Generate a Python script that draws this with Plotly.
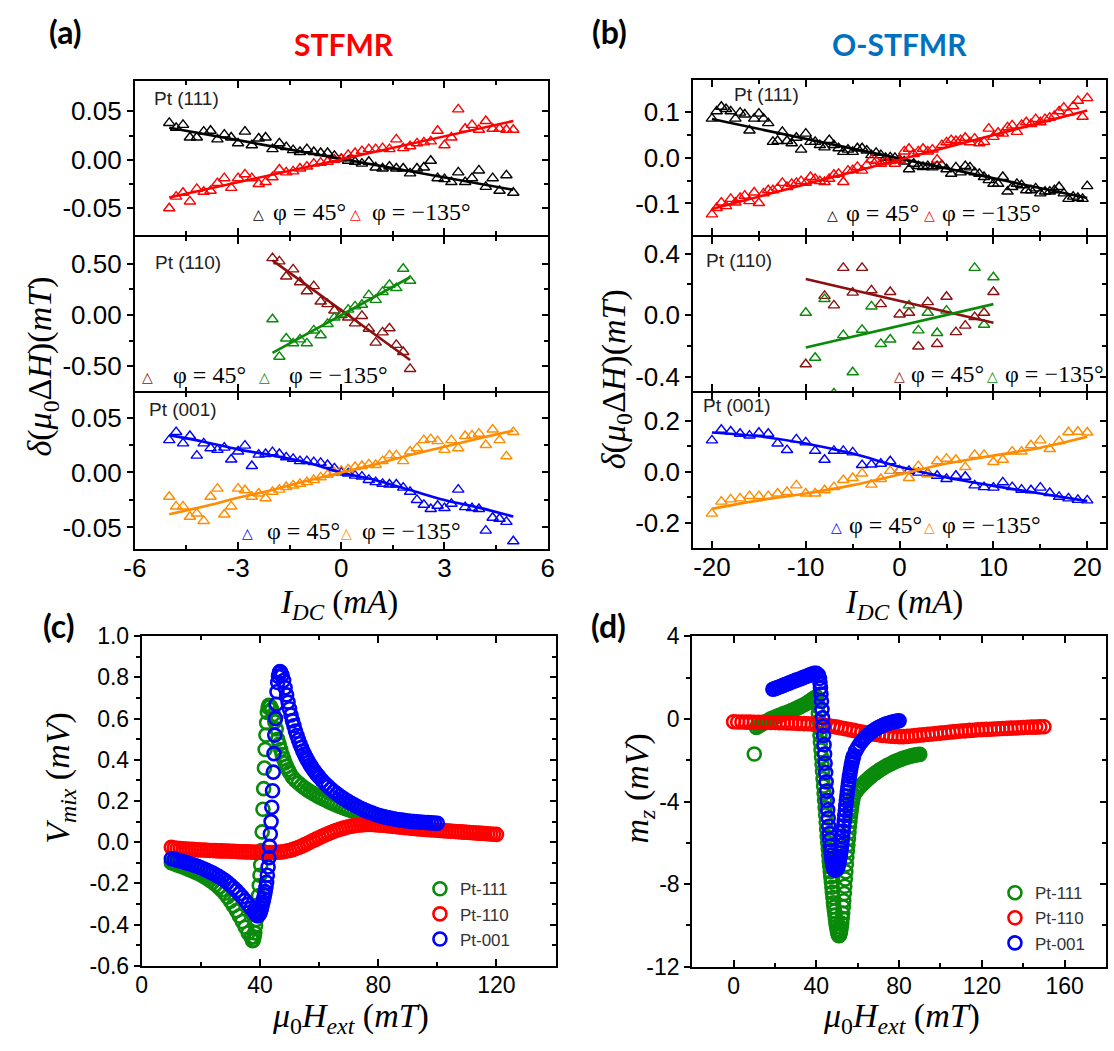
import numpy as np
import plotly.graph_objects as go

W, H = 1114, 1051

# ---------------- (a) STFMR : linewidth change vs I_DC ----------------
I_A = np.round(np.linspace(-5.0, 5.0, 51), 2)
A111_P45 = [0.038, 0.033, 0.036, 0.023, 0.023, 0.029, 0.030, 0.021, 0.026, 0.023,
            0.017, 0.029, 0.015, 0.022, 0.023, 0.011, 0.017, 0.013, 0.010, 0.008,
            0.011, 0.008, 0.007, 0.007, 0.004, 0.001, -0.001, -0.002, -0.004, -0.002,
            -0.008, -0.009, -0.007, -0.009, -0.009, -0.014, -0.009, -0.008, -0.001, -0.019,
            -0.020, -0.023, -0.013, -0.023, -0.019, -0.011, -0.028, -0.019, -0.032, -0.016,
            -0.034]
A111_M135 = [-0.050, -0.038, -0.034, -0.043, -0.030, -0.033, -0.032, -0.024, -0.019, -0.029,
             -0.019, -0.015, -0.019, -0.025, -0.023, -0.018, -0.010, -0.013, -0.012, -0.009,
             -0.007, -0.004, -0.003, -0.002, 0.000, 0.001, 0.005, 0.007, 0.009, 0.011,
             0.011, 0.012, 0.011, 0.021, 0.012, 0.014, 0.017, 0.018, 0.019, 0.030,
             0.015, 0.023, 0.052, 0.032, 0.036, 0.031, 0.040, 0.032, 0.032, 0.031,
             0.031]
I_A110 = np.round(np.linspace(-2.0, 2.0, 21), 2)
A110_P45 = [0.557, 0.525, 0.377, 0.447, 0.321, 0.233, 0.283, 0.132, 0.107, 0.044,
            0.000, -0.025, -0.082, -0.009, -0.135, -0.270, -0.170, -0.130, -0.292, -0.362,
            -0.528]
A110_M135 = [-0.041, -0.409, -0.230, -0.277, -0.239, -0.277, -0.151, -0.198, -0.088, -0.025,
             0.006, 0.053, 0.085, 0.101, 0.195, 0.148, 0.226, 0.296, 0.264, 0.453,
             0.336]
A001_P45 = [0.0294, 0.0368, 0.0265, 0.0332, 0.0153, 0.0265, 0.0221, 0.0206, 0.0226, 0.0118,
            0.0191, 0.0244, 0.0059, 0.0162, 0.0168, 0.0185, 0.0168, 0.0138, 0.0124, 0.0103,
            0.0103, 0.0094, 0.0088, 0.0068, 0.0038, 0.0000, -0.0009, -0.0029, -0.0038, -0.0068,
            -0.0088, -0.0103, -0.0109, -0.0109, -0.0138, -0.0176, -0.0250, -0.0294, -0.0332, -0.0303,
            -0.0324, -0.0285, -0.0156, -0.0315, -0.0324, -0.0332, -0.0529, -0.0412, -0.0421, -0.0450,
            -0.0626]
A001_M135 = [-0.0221, -0.0309, -0.0309, -0.0403, -0.0374, -0.0441, -0.0221, -0.0147, -0.0382, -0.0309,
             -0.0147, -0.0162, -0.0221, -0.0191, -0.0235, -0.0176, -0.0156, -0.0132, -0.0118, -0.0103,
             -0.0088, -0.0068, -0.0044, -0.0021, 0.0000, 0.0015, 0.0029, 0.0050, 0.0059, 0.0074,
             0.0068, 0.0103, 0.0156, 0.0156, 0.0103, 0.0191, 0.0221, 0.0294, 0.0303, 0.0285,
             0.0206, 0.0294, 0.0221, 0.0332, 0.0338, 0.0353, 0.0250, 0.0391, 0.0294, 0.0147,
             0.0368]

FIT_A111_I = [-5.0, 5.0]
FIT_A111_P45 = [0.033, -0.031]
FIT_A111_M135 = [-0.039, 0.040]
FIT_A110_I = [-2.0, 2.0]
FIT_A110_P45 = [0.535, -0.440]
FIT_A110_M135 = [-0.370, 0.370]
FIT_A001_I = [-5, -4, -3, -2, -1, 0, 1, 2, 3, 4, 5]
FIT_A001_P45 = [0.034, 0.028, 0.021, 0.0155, 0.009, 0.0, -0.007, -0.016, -0.025, -0.032, -0.040]
FIT_A001_M135 = [-0.038, -0.031, -0.023, -0.016, -0.0075, 0.0, 0.0075, 0.016, 0.0235, 0.031, 0.038]

# ---------------- (b) O-STFMR : linewidth change vs I_DC ----------------
I_B111 = np.round(np.linspace(-20.0, 20.0, 81), 1)
B111_P45 = [0.086, 0.102, 0.112, 0.107, 0.102, 0.086, 0.099, 0.095, 0.060, 0.086,
            0.097, 0.086, 0.076, 0.035, 0.037, 0.057, 0.037, 0.032, 0.044, 0.018,
            0.053, 0.035, 0.035, 0.028, 0.023, 0.039, 0.028, 0.021, 0.013, 0.018,
            0.013, 0.021, 0.021, 0.016, 0.006, 0.011, 0.006, 0.000, 0.001, 0.000,
            -0.004, -0.008, -0.025, -0.013, -0.018, -0.020, -0.018, -0.021, -0.018, -0.016,
            -0.025, -0.035, -0.021, -0.032, -0.018, -0.021, -0.032, -0.035, -0.042, -0.049,
            -0.057, -0.057, -0.042, -0.074, -0.064, -0.057, -0.060, -0.071, -0.071, -0.067,
            -0.078, -0.074, -0.074, -0.071, -0.064, -0.078, -0.090, -0.085, -0.088, -0.090,
            -0.062]
B111_M135 = [-0.124, -0.110, -0.098, -0.106, -0.090, -0.098, -0.088, -0.083, -0.095, -0.076,
             -0.099, -0.078, -0.071, -0.071, -0.067, -0.055, -0.064, -0.057, -0.055, -0.051,
             -0.055, -0.042, -0.046, -0.051, -0.053, -0.046, -0.037, -0.035, -0.053, -0.028,
             -0.027, -0.020, -0.028, -0.016, -0.004, -0.007, -0.013, -0.008, -0.007, -0.013,
             -0.006, 0.014, 0.020, 0.008, 0.014, 0.020, 0.014, 0.018, -0.004, 0.028,
             0.034, 0.039, 0.037, 0.039, 0.044, 0.034, 0.042, 0.032, 0.035, 0.064,
             0.046, 0.055, 0.053, 0.067, 0.071, 0.057, 0.072, 0.078, 0.074, 0.085,
             0.078, 0.085, 0.088, 0.092, 0.102, 0.110, 0.099, 0.113, 0.125, 0.090,
             0.131]
I_B110_P45 = [-10, -8, -7, -6, -5, -4, -3, -2, -1, 0, 1, 2, 3, 4, 5, 6, 7, 8, 9, 10]
B110_P45 = [-0.320, 0.125, 0.063, 0.307, 0.146, 0.307, 0.161, 0.071, 0.150, 0.004,
            0.015, -0.205, 0.084, -0.188, 0.119, -0.111, -0.069, -0.013, 0.015, 0.150]
I_B110_M135 = [-10, -9, -8, -7, -6, -5, -4, -3, -2, -1, 1, 2, 3, 4, 5, 8, 9, 10]
B110_M135 = [0.015, -0.278, 0.104, -0.510, -0.131, -0.372, -0.096, 0.056, -0.188, -0.159,
             0.063, -0.100, 0.015, -0.117, 0.029, 0.307, -0.063, 0.246]
I_B001 = np.arange(-20, 21)
B001_P45 = [0.124, 0.166, 0.159, 0.150, 0.143, 0.154, 0.150, 0.112, 0.086, 0.128,
            0.116, 0.083, 0.048, 0.083, 0.083, 0.077, 0.027, 0.029, 0.032, 0.042,
            0.006, 0.004, -0.003, -0.006, -0.015, -0.028, -0.015, -0.019, -0.053, -0.060,
            -0.062, -0.041, -0.060, -0.070, -0.072, -0.062, -0.083, -0.098, -0.104, -0.110,
            -0.112]
B001_M135 = [-0.164, -0.117, -0.108, -0.104, -0.095, -0.095, -0.095, -0.085, -0.079, -0.053,
             -0.085, -0.085, -0.072, -0.060, -0.032, -0.024, -0.006, -0.050, -0.028, 0.004,
             0.006, -0.024, 0.023, -0.009, 0.042, 0.052, 0.048, 0.019, 0.067, 0.067,
             0.039, 0.048, 0.080, 0.080, 0.105, 0.124, 0.090, 0.121, 0.156, 0.158,
             0.155]

FIT_B111_I = [-20, 20]
FIT_B111_P45 = [0.085, -0.088]
FIT_B111_M135 = [-0.112, 0.104]
FIT_B110_I = [-10, 10]
FIT_B110_P45 = [0.235, -0.050]
FIT_B110_M135 = [-0.211, 0.071]
FIT_B001_I = [-20, -15, -10, -5, 0, 5, 10, 15, 20]
FIT_B001_P45 = [0.155, 0.140, 0.112, 0.072, 0.020, -0.022, -0.055, -0.085, -0.115]
FIT_B001_M135 = [-0.145, -0.112, -0.085, -0.052, -0.010, 0.033, 0.064, 0.095, 0.138]

# ---------------- (c) STFMR mixing voltage vs field ----------------
# each block: (first field value, field step, readings)
VMIX_111 = [
    (10.0, 1.0, [-0.100, -0.105, -0.110, -0.115, -0.120, -0.126, -0.132, -0.138, -0.145, -0.151,
                 -0.158, -0.166, -0.175, -0.184, -0.194, -0.205, -0.218, -0.232, -0.248, -0.266,
                 -0.286, -0.308, -0.332, -0.358, -0.385, -0.412, -0.440, -0.462]),
    (37.5, 0.25, [-0.478, -0.475, -0.460, -0.440, -0.405, -0.375, -0.345, -0.305, -0.260, -0.210,
                  -0.160, -0.110, -0.040, 0.050, 0.160, 0.260, 0.360, 0.450, 0.520, 0.580,
                  0.630, 0.655, 0.665]),
    (43.5, 0.5, [0.660, 0.645, 0.620, 0.585, 0.550, 0.500, 0.475, 0.450, 0.425, 0.405,
                 0.385, 0.368, 0.352, 0.338]),
    (51.0, 1.0, [0.315, 0.300, 0.287, 0.275, 0.264, 0.254, 0.245, 0.236, 0.228, 0.220,
                 0.213, 0.206, 0.199, 0.192, 0.186, 0.180, 0.174, 0.168, 0.163, 0.158,
                 0.153, 0.148, 0.143, 0.139, 0.135, 0.131, 0.127, 0.123, 0.119, 0.116,
                 0.113, 0.110, 0.107, 0.104, 0.101, 0.098, 0.095, 0.092, 0.090, 0.088]),
]
VMIX_110 = [
    (10.0, 1.0, [-0.025, -0.028, -0.030, -0.031, -0.032, -0.033, -0.034, -0.035, -0.036, -0.037,
                 -0.038, -0.038, -0.039, -0.040, -0.040, -0.041, -0.042, -0.042, -0.043, -0.043,
                 -0.044, -0.044, -0.045, -0.046, -0.046, -0.047, -0.047, -0.048, -0.048, -0.049,
                 -0.049, -0.050, -0.050, -0.050, -0.050, -0.050, -0.049, -0.048, -0.046, -0.043,
                 -0.040, -0.036, -0.031, -0.026, -0.020, -0.013, -0.006, 0.001, 0.008, 0.015,
                 0.022, 0.029, 0.035, 0.041, 0.047, 0.053, 0.058, 0.063, 0.067, 0.071,
                 0.075, 0.078, 0.080, 0.082, 0.084, 0.085, 0.086, 0.086, 0.086, 0.085,
                 0.084, 0.083, 0.082, 0.080, 0.079, 0.077, 0.076, 0.074, 0.073, 0.071,
                 0.070, 0.068, 0.067, 0.066, 0.064, 0.063, 0.062, 0.061, 0.060, 0.059,
                 0.058, 0.057, 0.056, 0.055, 0.054, 0.053, 0.052, 0.051, 0.050, 0.049,
                 0.048, 0.047, 0.046, 0.045, 0.044, 0.043, 0.042, 0.041, 0.040, 0.039,
                 0.038]),
]
VMIX_001 = [
    (10.0, 1.0, [-0.080, -0.083, -0.087, -0.091, -0.095, -0.099, -0.103, -0.108, -0.113, -0.118,
                 -0.124, -0.130, -0.136, -0.143, -0.150, -0.158, -0.166, -0.175, -0.185, -0.196,
                 -0.208, -0.221, -0.235, -0.250, -0.266, -0.283, -0.301, -0.320, -0.337]),
    (38.5, 0.25, [-0.345, -0.352, -0.356, -0.357, -0.355, -0.350, -0.342, -0.333, -0.320, -0.305,
                  -0.290, -0.275, -0.258, -0.240, -0.220, -0.195, -0.160, -0.120, -0.075, -0.020,
                  0.040, 0.100, 0.170, 0.250, 0.340, 0.430, 0.520, 0.600, 0.670, 0.730,
                  0.775, 0.805, 0.820, 0.828, 0.825]),
    (47.5, 0.5, [0.810, 0.785, 0.750, 0.715, 0.680, 0.648, 0.618, 0.590, 0.565, 0.540,
                 0.518, 0.497, 0.478, 0.460, 0.443, 0.428, 0.413, 0.400, 0.387, 0.375,
                 0.364, 0.353, 0.343, 0.334, 0.325, 0.317]),
    (61.0, 1.0, [0.300, 0.285, 0.271, 0.258, 0.246, 0.235, 0.224, 0.214, 0.205, 0.196,
                 0.188, 0.180, 0.172, 0.165, 0.158, 0.152, 0.146, 0.141, 0.136, 0.131,
                 0.127, 0.123, 0.120, 0.117, 0.114, 0.111, 0.109, 0.107, 0.105, 0.103,
                 0.101, 0.100, 0.099, 0.098, 0.097, 0.096, 0.095, 0.094, 0.093, 0.092]),
]

# ---------------- (d) O-STFMR m_z vs field ----------------
MZ_111 = [
    (10.0, 1.0, [-1.70, -0.42, -0.36, -0.30, -0.24, -0.18, -0.12, -0.06, 0.00, 0.04,
                 0.08, 0.12, 0.16, 0.20, 0.24, 0.28, 0.31, 0.35, 0.40, 0.44,
                 0.49, 0.54, 0.58, 0.63, 0.68, 0.73, 0.80, 0.87, 0.94, 1.01,
                 1.07]),
    (40.5, 0.25, [0.90, 0.60, 0.25, -0.10, -0.45, -0.80, -1.15, -1.50, -1.85, -2.20,
                  -2.55, -2.90, -3.25, -3.60, -3.95, -4.30, -4.65, -5.00, -5.35, -5.70,
                  -6.00, -6.30, -6.60, -6.90, -7.15, -7.40, -7.65, -7.90, -8.15, -8.40,
                  -8.65, -8.90, -9.10, -9.30, -9.50, -9.70, -9.90, -10.05, -10.20, -10.32,
                  -10.42, -10.48, -10.50]),
    (51.25, 0.25, [-10.45, -10.38, -10.25, -10.10, -9.90, -9.65, -9.40, -9.10, -8.80, -8.45,
                   -8.10, -7.75, -7.40, -7.05, -6.70, -6.40, -6.10, -5.80, -5.50, -5.20,
                   -4.95, -4.70, -4.50, -4.30, -4.12, -3.96, -3.82, -3.70]),
    (59.0, 1.0, [-3.55, -3.42, -3.30, -3.19, -3.09, -3.00, -2.91, -2.82, -2.74, -2.66,
                 -2.59, -2.52, -2.45, -2.39, -2.33, -2.27, -2.22, -2.17, -2.12, -2.07,
                 -2.03, -1.99, -1.95, -1.91, -1.88, -1.85, -1.82, -1.79, -1.77, -1.75,
                 -1.73, -1.72]),
]
MZ_110 = [
    (0.0, 2.0, [-0.14, -0.15, -0.15, -0.16, -0.16, -0.17, -0.17, -0.17, -0.18, -0.18,
                -0.18, -0.19, -0.19, -0.20, -0.20, -0.21, -0.22, -0.23, -0.24, -0.25,
                -0.27, -0.29, -0.31, -0.34, -0.37, -0.40, -0.44, -0.48, -0.52, -0.56,
                -0.60, -0.64, -0.68, -0.71, -0.74, -0.77, -0.80, -0.82, -0.84, -0.85,
                -0.86, -0.86, -0.85, -0.83, -0.81, -0.79, -0.77, -0.75, -0.73, -0.71,
                -0.69, -0.67, -0.65, -0.63, -0.61, -0.59, -0.58, -0.56, -0.55, -0.53,
                -0.52, -0.51, -0.50, -0.49, -0.48, -0.47, -0.46, -0.45, -0.44, -0.43,
                -0.42, -0.41, -0.40, -0.40, -0.39, -0.38]),
]
MZ_001 = [
    (19.0, 1.0, [1.43, 1.46, 1.50, 1.54, 1.58, 1.62, 1.66, 1.70, 1.74, 1.78,
                 1.82, 1.86, 1.89, 1.93, 1.97, 2.01, 2.05, 2.09, 2.13, 2.17,
                 2.20, 2.21, 2.12]),
    (41.5, 0.25, [1.95, 1.75, 1.50, 1.20, 0.85, 0.45, 0.05, -0.35, -0.80, -1.25,
                  -1.70, -2.15, -2.60, -3.05, -3.50, -3.95, -4.40, -4.80, -5.20, -5.55,
                  -5.85, -6.15, -6.40, -6.60, -6.80, -6.95, -7.08, -7.18, -7.25, -7.30,
                  -7.32, -7.30, -7.25]),
    (49.75, 0.25, [-7.28, -7.25, -7.20, -7.12, -7.02, -6.92, -6.80, -6.66, -6.50, -6.32,
                   -6.12, -5.90, -5.67, -5.43, -5.18, -4.93, -4.68, -4.43, -4.19, -3.96,
                   -3.74, -3.53, -3.33, -3.14, -2.96, -2.79, -2.63, -2.48, -2.34, -2.21,
                   -2.09, -1.98, -1.88, -1.79]),
    (59.0, 1.0, [-1.55, -1.38, -1.22, -1.08, -0.96, -0.86, -0.77, -0.69, -0.61, -0.54,
                 -0.48, -0.42, -0.37, -0.32, -0.28, -0.24, -0.21, -0.18, -0.15, -0.13,
                 -0.11, -0.09]),
]

# ---------------- tick labels ----------------
A_XT, A_XTT, A_XMIN = [-6, -3, 0, 3, 6], ['-6', '-3', '0', '3', '6'], [-4.5, -1.5, 1.5, 4.5]
B_XT, B_XTT, B_XMIN = [-20, -10, 0, 10, 20], ['-20', '-10', '0', '10', '20'], [-15, -5, 5, 15]
A111_YT, A111_YTT, A111_YMIN = [-0.05, 0, 0.05], ['-0.05', '0.00', '0.05'], [-0.025, 0.025]
A110_YT, A110_YTT, A110_YMIN = [-0.5, 0, 0.5], ['-0.50', '0.00', '0.50'], [-0.25, 0.25]
A001_YT, A001_YTT, A001_YMIN = [-0.05, 0, 0.05], ['-0.05', '0.00', '0.05'], [-0.025, 0.025]
B111_YT, B111_YTT, B111_YMIN = [-0.1, 0, 0.1], ['-0.1', '0.0', '0.1'], [-0.05, 0.05]
B110_YT, B110_YTT, B110_YMIN = [-0.4, 0, 0.4], ['-0.4', '0.0', '0.4'], [-0.2, 0.2]
B001_YT, B001_YTT, B001_YMIN = [-0.2, 0, 0.2], ['-0.2', '0.0', '0.2'], [-0.1, 0.1]
C_XT, C_XTT, C_XMIN = [0, 40, 80, 120], ['0', '40', '80', '120'], [20, 60, 100, 140]
C_YT = [-0.6, -0.4, -0.2, 0, 0.2, 0.4, 0.6, 0.8, 1.0]
C_YTT = ['-0.6', '-0.4', '-0.2', '0.0', '0.2', '0.4', '0.6', '0.8', '1.0']
C_YMIN = [-0.5, -0.3, -0.1, 0.1, 0.3, 0.5, 0.7, 0.9]
D_XT, D_XTT, D_XMIN = [0, 40, 80, 120, 160], ['0', '40', '80', '120', '160'], [-20, 20, 60, 100, 140, 180]
D_YT, D_YTT, D_YMIN = [-12, -8, -4, 0, 4], ['-12', '-8', '-4', '0', '4'], [-10, -6, -2, 2]

# colours
BLACK, RED, BROWN, GREEN = '#000000', '#FF0000', '#8B1010', '#0A8A0A'
BLUE, ORANGE = '#0000FF', '#FF8C00'
SANS = 'Liberation Sans, Arial, sans-serif'
SERIF = 'Liberation Serif, Times New Roman, serif'
HEAD = 'Lato, Liberation Sans, sans-serif'


def blocks(spec):
    xs, ys = [], []
    for x0, step, vals in spec:
        xs.extend((x0 + step * np.arange(len(vals))).tolist())
        ys.extend(vals)
    return xs, ys


def xref(i):
    return 'x' if i == 1 else f'x{i}'


def yref(i):
    return 'y' if i == 1 else f'y{i}'


def key(kind, i):
    return kind + ('' if i == 1 else str(i))


fig = go.Figure()


def tri(i, x, y, color):
    fig.add_trace(go.Scatter(
        x=x, y=y, mode='markers', xaxis=xref(i), yaxis=yref(i), showlegend=False,
        hoverinfo='skip',
        marker=dict(symbol='triangle-up-open', size=10, color=color,
                    line=dict(width=1.4, color=color))))


def fitline(i, x, y, color, shape='linear'):
    fig.add_trace(go.Scatter(
        x=x, y=y, mode='lines', xaxis=xref(i), yaxis=yref(i), showlegend=False,
        hoverinfo='skip', line=dict(color=color, width=2.6, shape=shape, smoothing=1.0)))


def rings(i, spec, color, name, legend):
    x, y = blocks(spec)
    fig.add_trace(go.Scatter(
        x=x, y=y, mode='markers', name=name, xaxis=xref(i), yaxis=yref(i),
        legend=legend, hoverinfo='skip',
        marker=dict(symbol='circle-open', size=13, color=color,
                    line=dict(width=2.6, color=color))))


# (a)
tri(1, I_A, A111_P45, BLACK)
tri(1, I_A, A111_M135, RED)
fitline(1, FIT_A111_I, FIT_A111_P45, BLACK)
fitline(1, FIT_A111_I, FIT_A111_M135, RED)
tri(2, I_A110, A110_P45, BROWN)
tri(2, I_A110, A110_M135, GREEN)
fitline(2, FIT_A110_I, FIT_A110_P45, BROWN)
fitline(2, FIT_A110_I, FIT_A110_M135, GREEN)
tri(3, I_A, A001_P45, BLUE)
tri(3, I_A, A001_M135, ORANGE)
fitline(3, FIT_A001_I, FIT_A001_P45, BLUE, 'spline')
fitline(3, FIT_A001_I, FIT_A001_M135, ORANGE, 'spline')
# (b)
tri(4, I_B111, B111_P45, BLACK)
tri(4, I_B111, B111_M135, RED)
fitline(4, FIT_B111_I, FIT_B111_P45, BLACK)
fitline(4, FIT_B111_I, FIT_B111_M135, RED)
tri(5, I_B110_P45, B110_P45, BROWN)
tri(5, I_B110_M135, B110_M135, GREEN)
fitline(5, FIT_B110_I, FIT_B110_P45, BROWN)
fitline(5, FIT_B110_I, FIT_B110_M135, GREEN)
tri(6, I_B001, B001_P45, BLUE)
tri(6, I_B001, B001_M135, ORANGE)
fitline(6, FIT_B001_I, FIT_B001_P45, BLUE, 'spline')
fitline(6, FIT_B001_I, FIT_B001_M135, ORANGE, 'spline')
# (c)
rings(7, VMIX_111, GREEN, 'Pt-111', 'legend')
rings(7, VMIX_110, RED, 'Pt-110', 'legend')
rings(7, VMIX_001, BLUE, 'Pt-001', 'legend')
# (d)
rings(8, MZ_111, GREEN, 'Pt-111', 'legend2')
rings(8, MZ_110, RED, 'Pt-110', 'legend2')
rings(8, MZ_001, BLUE, 'Pt-001', 'legend2')

# axes: (pixel box left, right, top, bottom), ranges, ticks
# stacked boxes leave a 2 px gap so that neighbouring frame lines fall on one row
PANELS = [
    (1, (125, 545, 70, 228), [-6, 6], [-0.078, 0.081], A_XT, A_XTT, A_XMIN, A111_YT, A111_YTT, A111_YMIN, False, 26),
    (2, (125, 545, 230, 388), [-6, 6], [-0.748, 0.761], A_XT, A_XTT, A_XMIN, A110_YT, A110_YTT, A110_YMIN, False, 26),
    (3, (125, 545, 390, 550), [-6, 6], [-0.070, 0.072], A_XT, A_XTT, A_XMIN, A001_YT, A001_YTT, A001_YMIN, True, 26),
    (4, (693, 1113, 69, 228), [-22, 22], [-0.17, 0.17], B_XT, B_XTT, B_XMIN, B111_YT, B111_YTT, B111_YMIN, False, 26),
    (5, (693, 1113, 230, 388), [-22, 22], [-0.497, 0.506], B_XT, B_XTT, B_XMIN, B110_YT, B110_YTT, B110_YMIN, False, 26),
    (6, (693, 1113, 390, 549), [-22, 22], [-0.301, 0.309], B_XT, B_XTT, B_XMIN, B001_YT, B001_YTT, B001_YMIN, True, 26),
    (7, (132, 553, 639, 977), [0, 140], [-0.6, 1.0], C_XT, C_XTT, C_XMIN, C_YT, C_YTT, C_YMIN, True, 23),
    (8, (692, 1113, 639, 978), [-20, 180], [-12, 4], D_XT, D_XTT, D_XMIN, D_YT, D_YTT, D_YMIN, True, 23),
]

layout_axes = {}
for i, (l, r, t, b), xr_, yr_, xt, xtt, xmin, yt, ytt, ymin, showx, fs in PANELS:
    dx = [l / W, r / W]
    dy = [1 - b / H, 1 - t / H]
    tf = dict(family=SANS, size=fs, color='black')
    layout_axes[key('xaxis', i)] = dict(
        domain=dx, range=xr_, anchor=yref(i), showline=True, linecolor='black', linewidth=2,
        mirror='ticks', ticks='inside', ticklen=7, tickwidth=1.5, tickcolor='black',
        tickmode='array', tickvals=xt, ticktext=xtt, showticklabels=showx, tickfont=tf,
        ticklabelstandoff=-6 if fs > 24 else -2,
        minor=dict(tickmode='array', tickvals=xmin, ticks='inside', ticklen=4,
                   tickwidth=1.5, tickcolor='black'),
        showgrid=False, zeroline=False, fixedrange=True)
    layout_axes[key('yaxis', i)] = dict(
        domain=dy, range=yr_, anchor=xref(i), showline=True, linecolor='black', linewidth=2,
        mirror=True, ticks='outside', ticklen=6, tickwidth=1.5, tickcolor='black',
        tickmode='array', tickvals=yt, ticktext=ytt, tickfont=tf,
        minor=dict(tickmode='array', tickvals=ymin, ticks='outside', ticklen=4,
                   tickwidth=1.5, tickcolor='black'),
        showgrid=False, zeroline=False, fixedrange=True)
    j = i + 8
    layout_axes[key('yaxis', j)] = dict(
        domain=dy, range=yr_, anchor=xref(i), overlaying=yref(i), side='right',
        showline=False, ticks='inside', ticklen=6, tickwidth=1.5, tickcolor='black',
        tickmode='array', tickvals=yt, showticklabels=False,
        minor=dict(tickmode='array', tickvals=ymin, ticks='inside', ticklen=4,
                   tickwidth=1.5, tickcolor='black'),
        showgrid=False, zeroline=False, fixedrange=True)
    fig.add_trace(go.Scatter(x=[None], y=[None], xaxis=xref(i), yaxis=yref(j),
                             showlegend=False, hoverinfo='skip', mode='markers'))


def ann(text, x, y, size, color='black', family=SANS, xanchor='center', angle=0):
    return dict(text=text, x=x / W, y=1 - y / H, xref='paper', yref='paper', showarrow=False,
                font=dict(size=size, color=color, family=family), xanchor=xanchor,
                yanchor='middle', textangle=angle)


DELTA_TITLE = '<i>δ</i>(<i>μ</i><sub>0</sub>Δ<i>H</i>)(<i>mT</i>)'
IDC_TITLE = '<i>I</i><sub><i>DC</i></sub> (<i>mA</i>)'
FIELD_TITLE = '<i>μ</i><sub>0</sub><i>H</i><sub><i>ext</i></sub> (<i>mT</i>)'

annotations = [
    ann('<b>(a)</b>', 54, 19, 32, family=HEAD),
    ann('<b>STFMR</b>', 338, 32, 30, color=RED, family=HEAD),
    ann('<b>(b)</b>', 608, 19, 32, family=HEAD),
    ann('<b>O-STFMR</b>', 903, 32, 30, color='#0070C0', family=HEAD),
    ann('<b>(c)</b>', 48, 628, 32, family=HEAD),
    ann('<b>(d)</b>', 607, 628, 32, family=HEAD),
    ann(DELTA_TITLE, 31, 362, 34, family=SERIF, angle=-90),
    ann(DELTA_TITLE, 614, 376, 34, family=SERIF, angle=-90),
    ann(IDC_TITLE, 333, 606, 33, family=SERIF),
    ann(IDC_TITLE, 907, 606, 33, family=SERIF),
    ann(FIELD_TITLE, 344, 1030, 34, family=SERIF),
    ann(FIELD_TITLE, 905, 1030, 34, family=SERIF),
    ann('<i>V</i><sub><i>mix</i></sub> (<i>mV</i>)', 48, 784, 34, family=SERIF, angle=-90),
    ann('<i>m</i><sub><i>z</i></sub> (<i>mV</i>)', 638, 795, 34, family=SERIF, angle=-90),
    ann('Pt (111)', 178, 88, 19, color='#222222'),
    ann('Pt (110)', 179, 256, 19, color='#222222'),
    ann('Pt (001)', 174, 407, 19, color='#222222'),
    ann('Pt (111)', 768, 84, 19, color='#222222'),
    ann('Pt (110)', 740, 254, 19, color='#222222'),
    ann('Pt (001)', 738, 402, 19, color='#222222'),
]

# angle keys inside each panel: (row y, [(triangle x, colour, text x, text)])
KEYS = [
    (204, [(251, BLACK, 264, 'φ = 45°'), (349, RED, 364, 'φ = −135°')]),
    (371, [(138, BROWN, 162, 'φ = 45°'), (257, GREEN, 280, 'φ = −135°')]),
    (531, [(240, BLUE, 257, 'φ = 45°'), (340, ORANGE, 354, 'φ = −135°')]),
    (205, [(835, BLACK, 846, 'φ = 45°'), (933, RED, 944, 'φ = −135°')]),
    (370, [(903, BROWN, 913, 'φ = 45°'), (998, GREEN, 1008, 'φ = −135°')]),
    (525, [(839, BLUE, 849, 'φ = 45°'), (933, ORANGE, 944, 'φ = −135°')]),
]
for yk, items in KEYS:
    for tx, col, lx, label in items:
        annotations.append(ann('△', tx, yk + 2, 14, color=col, family='DejaVu Sans'))
        annotations.append(ann(label, lx, yk, 24, family=SERIF, xanchor='left'))

legend_style = dict(font=dict(family=SANS, size=17, color='#333333'), bgcolor='rgba(0,0,0,0)',
                    xanchor='left', yanchor='top', itemsizing='trace', tracegroupgap=0)

fig.update_layout(
    width=W, height=H, autosize=False, margin=dict(l=0, r=0, t=0, b=0),
    paper_bgcolor='white', plot_bgcolor='white',
    annotations=annotations,
    legend=dict(x=415 / W, y=1 - 880 / H, **legend_style),
    legend2=dict(x=1000 / W, y=1 - 884 / H, **legend_style),
    **layout_axes,
)

fig.write_html('out.html')
